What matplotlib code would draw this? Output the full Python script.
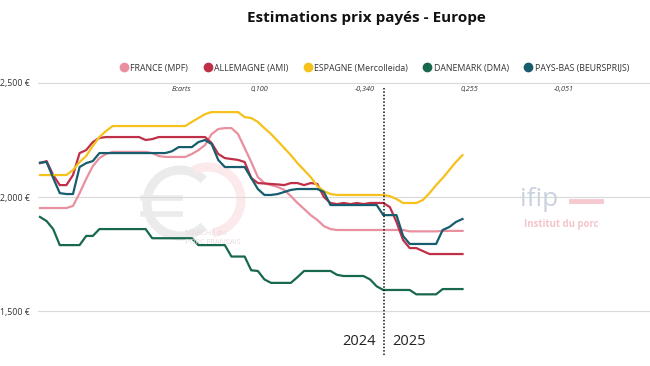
import matplotlib
matplotlib.use("Agg")
import matplotlib.pyplot as plt
from matplotlib.lines import Line2D
from matplotlib.patches import Arc

plt.rcParams["font.family"] = ["Open Sans", "DejaVu Sans"]

# semaines : 52 semaines 2024 + 13 semaines 2025
weeks = list(range(65))

france = [1952, 1952, 1952, 1952, 1952, 1961, 2017, 2079, 2135, 2170,
          2188, 2197, 2197, 2197, 2197, 2197, 2197, 2192, 2179, 2175,
          2175, 2175, 2175, 2188, 2205, 2227, 2275, 2297, 2301, 2301,
          2275, 2214, 2153, 2087, 2061, 2052, 2044, 2031, 2004, 1974,
          1948, 1921, 1900, 1873, 1860, 1856, 1856, 1856, 1856, 1856,
          1856, 1856, 1856, 1856, 1856, 1856, 1850, 1850, 1850, 1850,
          1850, 1852, 1852, 1852, 1852]
allemagne = [2148, 2157, 2096, 2052, 2052, 2096, 2192, 2205, 2240, 2258,
             2262, 2262, 2262, 2262, 2262, 2262, 2249, 2253, 2262, 2262,
             2262, 2262, 2262, 2262, 2262, 2262, 2236, 2188, 2170, 2166,
             2162, 2153, 2083, 2061, 2059, 2057, 2055, 2052, 2061, 2061,
             2052, 2061, 2057, 2000, 1974, 1969, 1974, 1969, 1974, 1969,
             1974, 1974, 1974, 1956, 1891, 1812, 1777, 1777, 1764, 1751,
             1751, 1751, 1751, 1751, 1751]
espagne = [2096, 2096, 2096, 2096, 2096, 2118, 2153, 2179, 2223, 2262,
           2288, 2310, 2310, 2310, 2310, 2310, 2310, 2310, 2310, 2310,
           2310, 2310, 2310, 2328, 2345, 2362, 2371, 2371, 2371, 2371,
           2371, 2349, 2345, 2328, 2301, 2275, 2245, 2214, 2183, 2148,
           2118, 2087, 2048, 2026, 2013, 2009, 2009, 2009, 2009, 2009,
           2009, 2009, 2009, 2004, 1991, 1974, 1974, 1974, 1987, 2017,
           2052, 2083, 2118, 2153, 2183]
danemark = [1913, 1895, 1860, 1790, 1790, 1790, 1790, 1830, 1830, 1860,
            1860, 1860, 1860, 1860, 1860, 1860, 1860, 1820, 1820, 1820,
            1820, 1820, 1820, 1820, 1790, 1790, 1790, 1790, 1790, 1740,
            1740, 1740, 1680, 1677, 1640, 1625, 1625, 1625, 1625, 1650,
            1677, 1677, 1677, 1677, 1677, 1660, 1655, 1655, 1655, 1655,
            1640, 1610, 1594, 1594, 1594, 1594, 1594, 1575, 1575, 1575,
            1575, 1598, 1598, 1598, 1598]
pays_bas = [2150, 2153, 2083, 2017, 2013, 2013, 2131, 2148, 2157, 2192,
            2192, 2192, 2192, 2192, 2192, 2192, 2192, 2192, 2192, 2192,
            2200, 2218, 2218, 2218, 2240, 2249, 2231, 2162, 2131, 2131,
            2131, 2131, 2083, 2035, 2009, 2009, 2013, 2022, 2031, 2035,
            2035, 2035, 2035, 2022, 1965, 1965, 1965, 1965, 1965, 1965,
            1965, 1965, 1921, 1921, 1921, 1830, 1795, 1795, 1795, 1795,
            1795, 1856, 1869, 1891, 1904]

series_names = ["FRANCE (MPF)", "ALLEMAGNE (AMI)", "ESPAGNE (Mercolleida)",
                "DANEMARK (DMA)", "PAYS-BAS (BEURSPRIJS)"]
colors = ["#ea8f9f", "#bf2f48", "#f6c11a", "#17684f", "#185d6d"]

ecarts_labels = ["Ecarts", "0,100", "-0,340", "0,255", "-0,051"]
ecarts_pos = [21.4, 33.2, 49.2, 65.0, 79.4]

y_ticks = [1500, 2000, 2500]
y_labels = ["1,500 €", "2,000 €", "2,500 €"]

year_split = 52.1


def _px(x, y):
    """pixels (depuis le coin haut-gauche) -> fraction de figure"""
    return x / 650, 1 - y / 366


def _watermark(fig):
    # logo "Marché du porc français" (euro gris + arc rose)
    euro = Arc(_px(180, 203), 66 / 650, 66 / 366, theta1=60, theta2=300,
               color="#ebebeb", lw=6.5, transform=fig.transFigure, zorder=0)
    fig.add_artist(euro)
    for yb in (198, 214):
        fig.add_artist(Line2D([143 / 650, 180 / 650], [1 - yb / 366] * 2,
                              color="#ebebeb", lw=4,
                              transform=fig.transFigure, zorder=0))
    pink = Arc(_px(208, 200), 66 / 650, 66 / 366, theta1=-85, theta2=105,
               color="#fce9ec", lw=6.5, transform=fig.transFigure, zorder=0)
    fig.add_artist(pink)
    fig.text(*_px(185, 233), "MARCHÉ du", fontsize=5.3, color="#ead9dd",
             ha="left", va="center", zorder=1)
    fig.text(*_px(185, 242), "PORC FRANÇAIS", fontsize=5.3, color="#ead9dd",
             ha="left", va="center", zorder=1)

    # logo ifip
    fig.text(*_px(520, 199), "ifip", fontsize=19, color="#c9d2de",
             ha="left", va="center")
    fig.add_artist(Line2D([571 / 650, 601 / 650], [1 - 201 / 366] * 2,
                          color="#f6c8cf", lw=3.5, transform=fig.transFigure))
    fig.text(*_px(561, 224), "Institut du porc", fontsize=6.9,
             color="#f4c4cc", ha="center", va="center", fontweight="bold")


def main():
    fig = plt.figure(figsize=(6.5, 3.66), dpi=100)
    ax = fig.add_axes([38 / 650, 11 / 366, 612 / 650, 273.6 / 366])
    ax.patch.set_alpha(0)

    _watermark(fig)

    for vals, name, col in zip([france, allemagne, espagne, danemark, pays_bas],
                               series_names, colors):
        ax.plot(weeks, vals, color=col, lw=1.6, label=name, zorder=3)

    ax.set_xlim(-0.3, 92.4)
    ax.set_ylim(1310, 2505)
    ax.set_yticks(y_ticks)
    ax.set_yticklabels(y_labels, fontsize=6.3, color="#333333")
    ax.set_xticks([])
    ax.tick_params(axis="y", length=0, pad=6)
    ax.grid(axis="y", color="#d9d9d9", lw=0.8)
    ax.set_axisbelow(True)
    for s in ax.spines.values():
        s.set_visible(False)

    # séparation 2024 / 2025
    ax.plot([year_split, year_split], [1310, 2478], color="#111111", lw=1.1,
            ls=(0, (1, 1.2)), zorder=4)
    ax.text(year_split - 1.2, 1368, "2024", ha="right", va="center",
            fontsize=10.5, color="#222222")
    ax.text(year_split + 1.2, 1368, "2025", ha="left", va="center",
            fontsize=10.5, color="#222222")

    for lab, xp in zip(ecarts_labels, ecarts_pos):
        ax.text(xp, 2470, lab, ha="center", va="center", fontsize=5.2,
                style="italic", color="#333333")

    fig.text(*_px(366, 18), "Estimations prix payés - Europe",
             fontsize=11, fontweight="bold", ha="center", va="center",
             color="#111111")

    handles = [Line2D([], [], marker="o", ls="none", ms=6, color=c) for c in colors]
    fig.legend(handles, series_names, loc="center", ncol=5,
               bbox_to_anchor=_px(374, 68), frameon=False,
               fontsize=6.3, handletextpad=0.15, columnspacing=1.6,
               handlelength=1.2, labelcolor="#333333")

    fig.savefig("out.png", dpi=100)


if __name__ == "__main__":
    main()
